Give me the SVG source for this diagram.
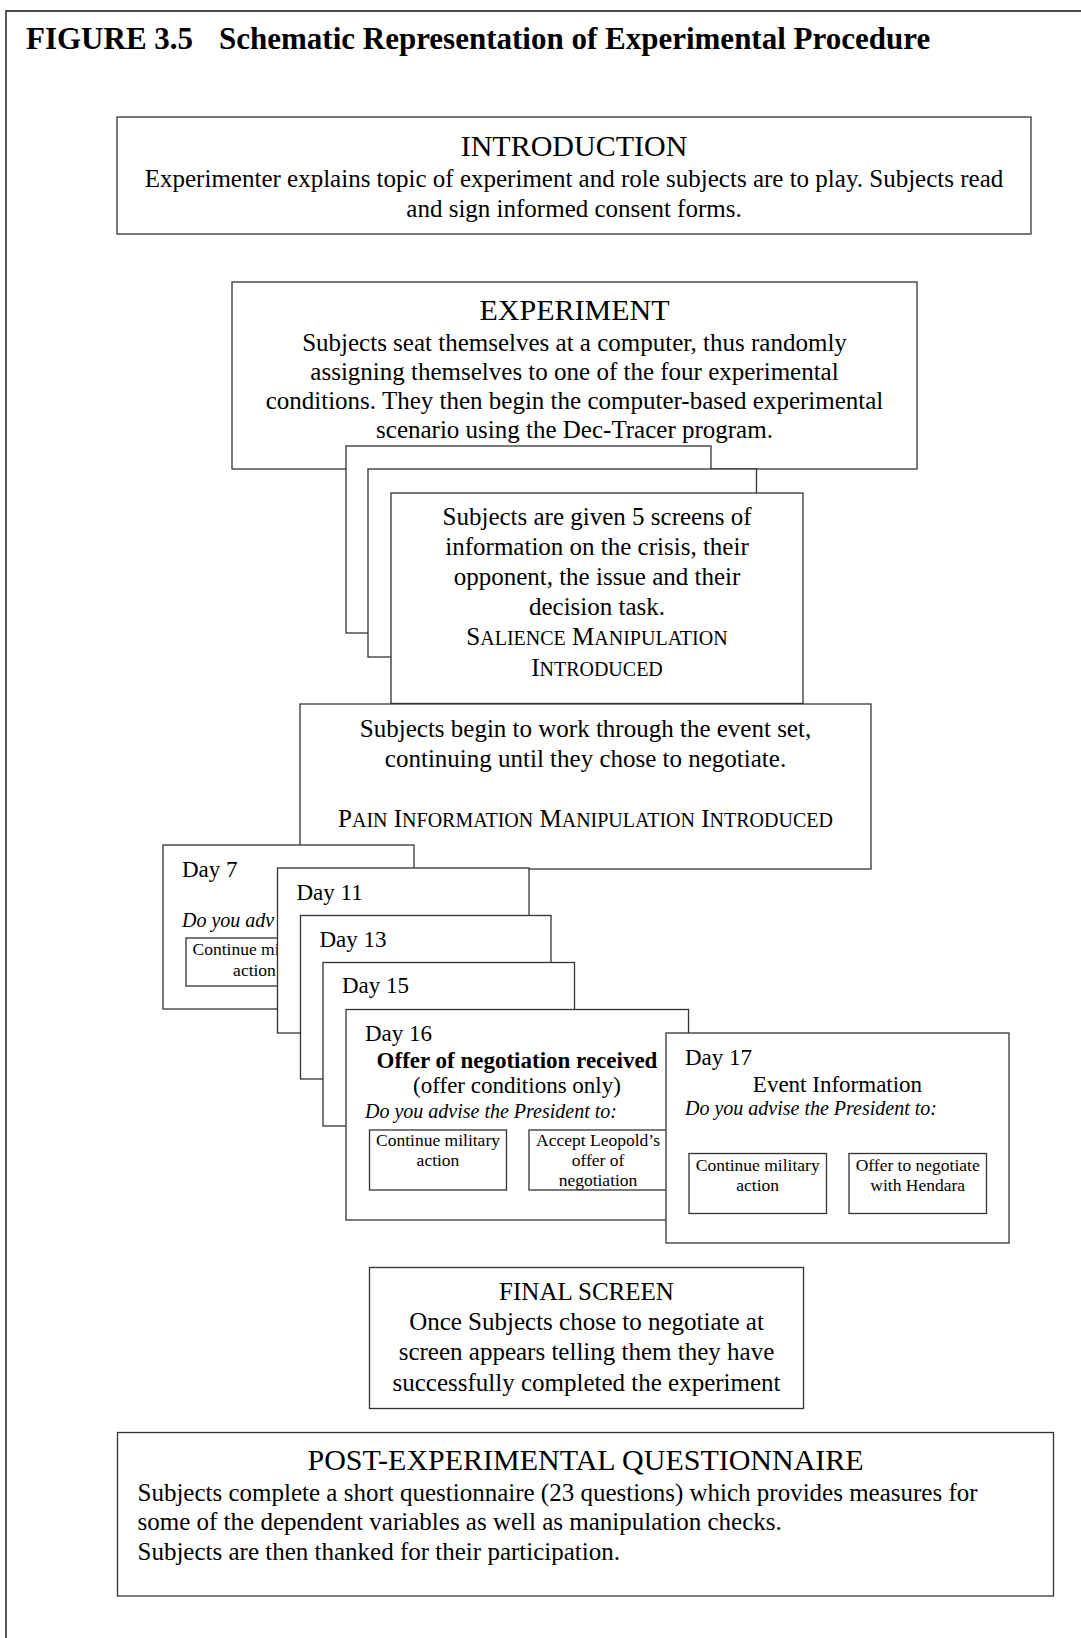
<svg xmlns="http://www.w3.org/2000/svg" width="1081" height="1638" viewBox="0 0 1081 1638">
<style>
text{font-family:"Liberation Serif","Times New Roman",serif;fill:#000}
.box{fill:#fff;stroke:#333;stroke-width:1.3}
.frame{fill:none;stroke:#111;stroke-width:1.4}
.h{font-size:30px;text-anchor:middle}
.b{font-size:25px}
.c{text-anchor:middle}
.d{font-size:23px}
.i{font-size:20px;font-style:italic}
.btn{font-size:17.5px;text-anchor:middle}
.sc{font-size:20px}
.t{font-size:31px;font-weight:bold}
</style>
<defs>
<clipPath id="clip7"><rect x="163" y="845" width="114" height="164"/></clipPath>
</defs>
<rect width="1081" height="1638" fill="#fff"/>
<g id="frame">
<path class="frame" d="M6,1638 V11 H1081"/>
<text class="t" x="26" y="49">FIGURE 3.5<tspan x="219">Schematic Representation of Experimental Procedure</tspan></text>
</g>
<g id="connectors"></g>
<g id="introduction">
<rect class="box" x="117" y="117" width="914" height="117"/>
<text class="h" x="574" y="156">INTRODUCTION</text>
<text class="b c" x="574" y="187">Experimenter explains topic of experiment and role subjects are to play. Subjects read</text>
<text class="b c" x="574" y="217">and sign informed consent forms.</text>
</g>
<g id="experiment">
<rect class="box" x="232" y="282" width="685" height="187"/>
<rect class="box" x="346" y="446" width="365" height="187"/>
<rect class="box" x="368" y="469" width="388.5" height="188"/>
<text class="h" x="574.5" y="320">EXPERIMENT</text>
<text class="b c" x="574.5" y="351">Subjects seat themselves at a computer, thus randomly</text>
<text class="b c" x="574.5" y="380">assigning themselves to one of the four experimental</text>
<text class="b c" x="574.5" y="409">conditions. They then begin the computer-based experimental</text>
<text class="b c" x="574.5" y="438">scenario using the Dec-Tracer program.</text>
</g>
<g id="salience">
<rect class="box" x="391" y="493" width="412" height="210.5"/>
<text class="b c" x="597" y="525">Subjects are given 5 screens of</text>
<text class="b c" x="597" y="555">information on the crisis, their</text>
<text class="b c" x="597" y="585">opponent, the issue and their</text>
<text class="b c" x="597" y="615">decision task.</text>
<text class="b c" x="597" y="645">S<tspan class="sc">ALIENCE</tspan> M<tspan class="sc">ANIPULATION</tspan></text>
<text class="b c" x="597" y="676">I<tspan class="sc">NTRODUCED</tspan></text>
</g>
<g id="event-set">
<rect class="box" x="300" y="704" width="571" height="165"/>
<text class="b c" x="585.5" y="737">Subjects begin to work through the event set,</text>
<text class="b c" x="585.5" y="767">continuing until they chose to negotiate.</text>
<text class="b c" x="585.5" y="827">P<tspan class="sc">AIN</tspan> I<tspan class="sc">NFORMATION</tspan> M<tspan class="sc">ANIPULATION</tspan> I<tspan class="sc">NTRODUCED</tspan></text>
</g>
<g id="day7">
<rect class="box" x="163" y="845" width="251" height="164"/>
<text class="d" x="182" y="877">Day 7</text>
<text class="i" x="182" y="927" clip-path="url(#clip7)">Do you adv</text>
<rect class="box" x="186" y="938" width="137" height="48"/>
<text class="btn" x="254.5" y="955">Continue military</text>
<text class="btn" x="254.5" y="976">action</text>
</g>
<g id="day11">
<rect class="box" x="277.5" y="868" width="251.5" height="165"/>
<text class="d" x="296.5" y="900">Day 11</text>
</g>
<g id="day13">
<rect class="box" x="300.5" y="915.5" width="250.5" height="163.5"/>
<text class="d" x="319.5" y="947">Day 13</text>
</g>
<g id="day15">
<rect class="box" x="323" y="962.5" width="251.5" height="163.5"/>
<text class="d" x="342" y="993">Day 15</text>
</g>
<g id="day16">
<rect class="box" x="346" y="1009.5" width="342.5" height="210.5"/>
<text class="d" x="365" y="1041">Day 16</text>
<text class="d c" x="517" y="1068" font-weight="bold">Offer of negotiation received</text>
<text class="d c" x="517" y="1093">(offer conditions only)</text>
<text class="i" x="365" y="1118">Do you advise the President to:</text>
<rect class="box" x="369.5" y="1130" width="137" height="60"/>
<text class="btn" x="438" y="1146">Continue military</text>
<text class="btn" x="438" y="1165.5">action</text>
<rect class="box" x="529" y="1130" width="138" height="60"/>
<text class="btn" x="598" y="1146">Accept Leopold’s</text>
<text class="btn" x="598" y="1165.5">offer of</text>
<text class="btn" x="598" y="1185.5">negotiation</text>
</g>
<g id="day17">
<rect class="box" x="666" y="1033" width="343" height="210"/>
<text class="d" x="685" y="1065">Day 17</text>
<text class="d c" x="837.5" y="1092">Event Information</text>
<text class="i" x="685" y="1115">Do you advise the President to:</text>
<rect class="box" x="689" y="1153.5" width="137.5" height="60"/>
<text class="btn" x="757.7" y="1171">Continue military</text>
<text class="btn" x="757.7" y="1191">action</text>
<rect class="box" x="849" y="1153.5" width="137.5" height="60"/>
<text class="btn" x="917.7" y="1171">Offer to negotiate</text>
<text class="btn" x="917.7" y="1191">with Hendara</text>
</g>
<g id="final-screen">
<rect class="box" x="369.5" y="1267.5" width="434" height="141"/>
<text class="b c" x="586.5" y="1300">FINAL SCREEN</text>
<text class="b c" x="586.5" y="1330">Once Subjects chose to negotiate at</text>
<text class="b c" x="586.5" y="1360">screen appears telling them they have</text>
<text class="b c" x="586.5" y="1391">successfully completed the experiment</text>
</g>
<g id="questionnaire">
<rect class="box" x="117.5" y="1432.5" width="936" height="163.5"/>
<text class="h" x="585.6" y="1470">POST-EXPERIMENTAL QUESTIONNAIRE</text>
<text class="b" x="137.5" y="1501">Subjects complete a short questionnaire (23 questions) which provides measures for</text>
<text class="b" x="137.5" y="1530">some of the dependent variables as well as manipulation checks.</text>
<text class="b" x="137.5" y="1560">Subjects are then thanked for their participation.</text>
</g>
</svg>
